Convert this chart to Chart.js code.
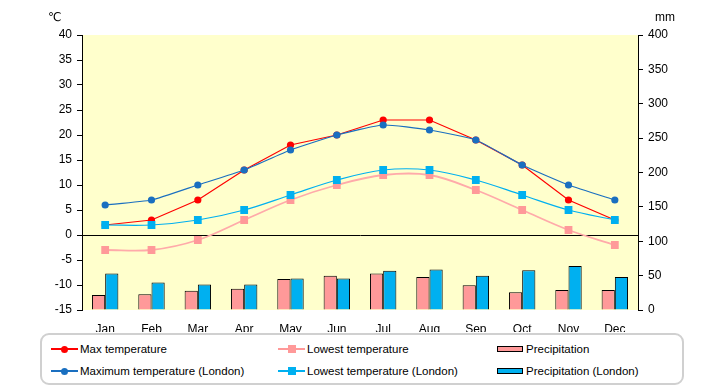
<!DOCTYPE html>
<html>
<head>
<meta charset="utf-8">
<script src="https://cdn.jsdelivr.net/npm/chart.js@4.4.1/dist/chart.umd.min.js"></script>
<style>
  body { margin: 0; background: #fff; font-family: "Liberation Sans", "DejaVu Sans", sans-serif; }
  #wrap { position: relative; width: 720px; height: 385px; }
  #chartBox { position: absolute; left: 0; top: 0; width: 720px; height: 332px; }
  .unit { position: absolute; top: 10px; font-size: 12px; color: #000; }
  #legend { position: absolute; left: 40px; top: 333px; width: 640px; height: 48px;
            border: 2px solid #d0d0d0; border-radius: 9px; font-size: 11.5px; }
  .item { position: absolute; display: flex; align-items: center; height: 14px; }
  .sym { position: relative; width: 27px; height: 12px; margin-right: 2px; }
  .sym .ln { position: absolute; left: 0; top: 5px; width: 27px; height: 1.5px; }
  .sym .dot { position: absolute; left: 10px; top: 2.5px; width: 7px; height: 7px; border-radius: 50%; }
  .sym .sq { position: absolute; left: 10px; top: 2px; width: 8px; height: 8px; }
  .sym .bar { position: absolute; left: 0; top: 3px; width: 24px; height: 4px; border: 1px solid #000; }
</style>
</head>
<body>
<div id="wrap">
  <div id="chartBox"><canvas id="climateChart"></canvas></div>
  <div class="unit" style="left:48px;">℃</div>
  <div class="unit" style="left:655px;">mm</div>
  <div id="legend"></div>
</div>
<script>
const months = ['Jan', 'Feb', 'Mar', 'Apr', 'May', 'Jun', 'Jul', 'Aug', 'Sep', 'Oct', 'Nov', 'Dec'];
const maxTemp = [2, 3, 7, 13, 18, 20, 23, 23, 19, 14, 7, 3];
const lowTemp = [-3, -3, -1, 3, 7, 10, 12, 12, 9, 5, 1, -2];
const maxTempLondon = [6, 7, 10, 13, 17, 20, 22, 21, 19, 14, 10, 7];
const lowTempLondon = [2, 2, 3, 5, 8, 11, 13, 13, 11, 8, 5, 3];
const precip = [22, 23, 28, 31, 45, 50, 53, 48, 36, 26, 29, 29];
const precipLondon = [53, 40, 37, 37, 46, 46, 57, 59, 50, 58, 64, 48];
const tempTicks = [-15, 40, 5];
const mmTicks = [0, 400, 50];

const RED = '#ff0000', PINK = '#ff9999', NAVY = '#1a6fc0', CYAN = '#00b0f0';

// yellow plot background
const plotBg = {
    id: 'plotBg',
    beforeDraw(chart) {
        const a = chart.chartArea, ctx = chart.ctx;
        ctx.save();
        ctx.fillStyle = '#ffffcc';
        ctx.fillRect(a.left, a.top, a.right - a.left, a.bottom - a.top);
        ctx.restore();
    }
};

const tickFont = { family: '"Liberation Sans", "DejaVu Sans", sans-serif', size: 12 };

// higher order is drawn first (underneath)
new Chart(document.getElementById('climateChart'), {
    type: 'bar',
    data: {
        labels: months,
        datasets: [
            { type: 'line', label: 'Max temperature', data: maxTemp, yAxisID: 'y',
              borderColor: RED, backgroundColor: RED, borderWidth: 1.2, pointRadius: 3.6,
              pointBorderWidth: 0, pointStyle: 'circle', tension: 0, order: 4 },
            { type: 'line', label: 'Lowest temperature', data: lowTemp, yAxisID: 'y',
              borderColor: '#ffaaaa', backgroundColor: PINK, borderWidth: 1.8, pointRadius: 5.5,
              pointBorderWidth: 0, pointStyle: 'rect', tension: 0.35, order: 3 },
            { type: 'line', label: 'Maximum temperature (London)', data: maxTempLondon, yAxisID: 'y',
              borderColor: NAVY, backgroundColor: NAVY, borderWidth: 1.2, pointRadius: 3.6,
              pointBorderWidth: 0, pointStyle: 'circle', tension: 0.15, order: 2 },
            { type: 'line', label: 'Lowest temperature (London)', data: lowTempLondon, yAxisID: 'y',
              borderColor: CYAN, backgroundColor: CYAN, borderWidth: 1.2, pointRadius: 5.5,
              pointBorderWidth: 0, pointStyle: 'rect', tension: 0.35, order: 1 },
            { label: 'Precipitation', data: precip, yAxisID: 'y2',
              backgroundColor: PINK, borderColor: '#000', borderWidth: 1,
              barPercentage: 1, categoryPercentage: 0.57, order: 5 },
            { label: 'Precipitation (London)', data: precipLondon, yAxisID: 'y2',
              backgroundColor: CYAN, borderColor: '#000', borderWidth: 1,
              barPercentage: 1, categoryPercentage: 0.57, order: 5 }
        ]
    },
    options: {
        responsive: true,
        maintainAspectRatio: false,
        animation: false,
        layout: { padding: { top: 35, left: 0, right: 0, bottom: 0 } },
        plugins: {
            legend: { display: false },
            tooltip: { enabled: false }
        },
        scales: {
            x: {
                grid: { display: false },
                border: { display: false },
                ticks: { color: '#000', font: tickFont, padding: 4 },
                afterFit(scale) { scale.height = 22; }
            },
            y: {
                position: 'left',
                min: tempTicks[0], max: tempTicks[1],
                ticks: { stepSize: tempTicks[2], color: '#000', font: tickFont, padding: 5 },
                grid: {
                    color: ctx => ctx.tick && ctx.tick.value === 0 ? '#000' : 'rgba(0,0,0,0)',
                    lineWidth: 1,
                    tickColor: '#000',
                    tickLength: 5
                },
                border: { display: true, color: '#000', width: 1 },
                afterFit(scale) { scale.width = 82; }
            },
            y2: {
                position: 'right',
                min: mmTicks[0], max: mmTicks[1],
                ticks: { stepSize: mmTicks[2], color: '#000', font: tickFont, padding: 5 },
                grid: { drawOnChartArea: false, tickColor: '#000', tickLength: 5 },
                border: { display: true, color: '#000', width: 1 },
                afterFit(scale) { scale.width = 82; }
            }
        }
    },
    plugins: [plotBg]
});

// legend in three columns, two rows
const legendItems = [
    { text: 'Max temperature', kind: 'dot', color: RED, x: 9, y: 7 },
    { text: 'Lowest temperature', kind: 'sq', color: PINK, x: 236, y: 7 },
    { text: 'Precipitation', kind: 'bar', color: PINK, x: 455, y: 7 },
    { text: 'Maximum temperature (London)', kind: 'dot', color: NAVY, x: 9, y: 29 },
    { text: 'Lowest temperature (London)', kind: 'sq', color: CYAN, x: 236, y: 29 },
    { text: 'Precipitation (London)', kind: 'bar', color: CYAN, x: 455, y: 29 }
];
const legendBox = document.getElementById('legend');
legendItems.forEach(it => {
    const el = document.createElement('div');
    el.className = 'item';
    el.style.left = it.x + 'px';
    el.style.top = it.y + 'px';
    let sym;
    if (it.kind === 'bar') {
        sym = '<div class="sym"><div class="bar" style="background:' + it.color + '"></div></div>';
    } else {
        sym = '<div class="sym"><div class="ln" style="background:' + it.color + '"></div>' +
              '<div class="' + it.kind + '" style="background:' + it.color + '"></div></div>';
    }
    el.innerHTML = sym + '<span>' + it.text + '</span>';
    legendBox.appendChild(el);
});
</script>
</body>
</html>
